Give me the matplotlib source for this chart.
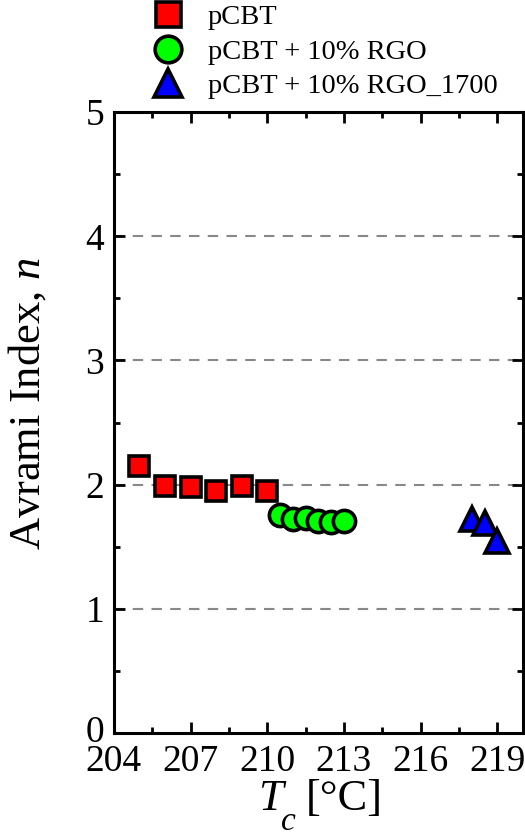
import matplotlib
matplotlib.use("Agg")
import matplotlib.pyplot as plt
from matplotlib.ticker import MultipleLocator, FuncFormatter

plt.rcParams['font.family'] = ['Liberation Serif', 'DejaVu Serif']
plt.rcParams['mathtext.fontset'] = 'custom'
plt.rcParams['mathtext.it'] = 'Liberation Serif:italic'
plt.rcParams['mathtext.rm'] = 'Liberation Serif'

# Crystallization temperatures and Avrami indices
tc_pcbt = [205, 206, 207, 208, 209, 210]
n_pcbt = [2.15, 1.99, 1.98, 1.95, 1.99, 1.95]

tc_rgo = [210.5, 211, 211.5, 212, 212.5, 213]
n_rgo = [1.76, 1.72, 1.73, 1.71, 1.70, 1.71]

tc_rgo1700 = [218, 218.5, 219]
n_rgo1700 = [1.72, 1.69, 1.55]

labels = ['pCBT', 'pCBT + 10% RGO', 'pCBT + 10% RGO_1700']
xticks = [204, 207, 210, 213, 216, 219]
yticks = [0, 1, 2, 3, 4, 5]

fig = plt.figure(figsize=(5.25, 8.36), dpi=100)
ax = fig.add_axes([0.217, 0.123, 0.779, 0.743])

for y in [1, 2, 3, 4]:
    ax.axhline(y, color='#888888', lw=1.5, ls=(0, (5, 4)), zorder=0)

h1, = ax.plot(tc_pcbt, n_pcbt, ls='none', marker='s', ms=15, mfc='#ff0000',
              mec='black', mew=2.6, zorder=3)
h2, = ax.plot(tc_rgo, n_rgo, ls='none', marker='o', ms=16, mfc='#00ff00',
              mec='black', mew=2.6, zorder=3)
h3, = ax.plot(tc_rgo1700, n_rgo1700, ls='none', marker='^', ms=17,
              mfc='#0000ff', mec='black', mew=2.6, zorder=3)

ax.set_xlim(204, 220)
ax.set_ylim(0, 5)
ax.set_xticks(xticks)
ax.set_yticks(yticks)
# the bottom "0" is drawn separately, slightly raised above the x labels
ax.yaxis.set_major_formatter(FuncFormatter(lambda v, p: '' if v == 0 else f'{v:g}'))
ax.xaxis.set_minor_locator(MultipleLocator(1.5))
ax.yaxis.set_minor_locator(MultipleLocator(0.5))
ax.tick_params(which='both', direction='in', top=True, right=True,
               width=2, labelsize=27)
ax.tick_params(which='major', length=8)
ax.tick_params(which='minor', length=4)
ax.tick_params(axis='x', pad=8)
ax.tick_params(axis='y', pad=7)
for s in ax.spines.values():
    s.set_linewidth(2.2)

ax.annotate(f'{yticks[0]:g}', xy=(0, 0), xycoords=('axes fraction', 'data'),
            xytext=(-7, 3), textcoords='offset points', fontsize=27,
            ha='right', va='center_baseline')

ax.set_ylabel('Avrami Index, $n$', fontsize=32)
ax.yaxis.set_label_coords(-0.16, 0.531)

# x-axis title: italic T with a low subscript c, then the unit
ax.text(0.352, -0.124, 'T', transform=ax.transAxes, fontsize=32,
        style='italic', ha='left', va='baseline')
ax.text(0.408, -0.156, 'c', transform=ax.transAxes, fontsize=24,
        style='italic', ha='left', va='baseline')
ax.text(0.47, -0.124, '[°C]', transform=ax.transAxes, fontsize=32,
        ha='left', va='baseline')

fig.legend(handles=[h1, h2, h3], labels=labels, loc='upper left',
           bbox_to_anchor=(0.293, 0.995), frameon=False,
           fontsize=20.5, handletextpad=0.9, labelspacing=0.3,
           borderaxespad=0, borderpad=0, handlelength=1.0, markerscale=1.2)

fig.savefig('out.png', dpi=100)
